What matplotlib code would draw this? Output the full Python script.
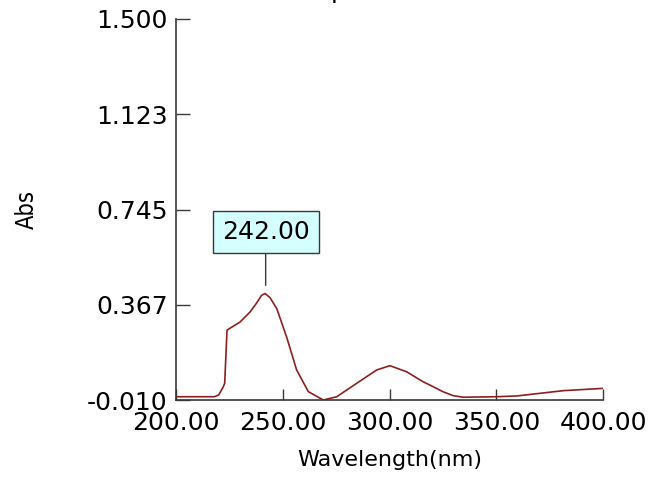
import numpy as np
import matplotlib.pyplot as plt

# ----------- DATA -----------------------------------------------------------
wavelength = [200.0, 218.0, 220.0, 222.0, 222.8, 223.9, 230.0, 234.7, 237.8, 240.1,
              241.7, 244.0, 247.2, 251.8, 256.5, 262.0, 269.0, 275.3, 284.6, 294.0,
              300.2, 308.0, 315.8, 319.0, 325.0, 329.9, 334.6, 350.2, 359.6, 381.4,
              399.8]
absorbance = [0.003, 0.003, 0.010, 0.040, 0.056, 0.267, 0.299, 0.339, 0.375, 0.405,
              0.412, 0.396, 0.352, 0.240, 0.109, 0.023, -0.010, 0.003, 0.056, 0.109,
              0.126, 0.102, 0.062, 0.049, 0.023, 0.007, 0.001, 0.003, 0.006, 0.027,
              0.036]

y_ticks = [-0.010, 0.367, 0.745, 1.123, 1.500]
x_ticks = [200, 250, 300, 350, 400]
peak_wl = 242.00
# ----------------------------------------------------------------------------

axis_color = "#383838"

fig = plt.figure(figsize=(6.52, 4.8), dpi=100)
ax = fig.add_axes([176/652, 1 - 400/480, 427/652, 381/480])

ax.plot(wavelength, absorbance, color="#8b2020", lw=1.2)

ax.set_xlim(200, 400)
ax.set_ylim(-0.010, 1.500)
ax.set_xticks(x_ticks)
ax.set_xticklabels([f"{v:.2f}" for v in x_ticks])
ax.set_yticks(y_ticks)
ax.set_yticklabels([f"{v:.3f}" for v in y_ticks])

for side in ["top", "right"]:
    ax.spines[side].set_visible(False)
for side in ["left", "bottom"]:
    ax.spines[side].set_color(axis_color)
    ax.spines[side].set_linewidth(1.2)

ax.tick_params(axis="y", direction="in", length=10, width=1, color=axis_color,
               labelsize=18, pad=6)
ax.tick_params(axis="x", direction="in", length=8, width=1, color=axis_color,
               labelsize=18, pad=8)

ax.set_xlabel("Wavelength(nm)", fontsize=16)
ax.xaxis.set_label_coords(0.5, -0.13)
ax.set_ylabel("Abs", fontsize=17, fontstretch="condensed")
ax.yaxis.set_label_coords(-0.322, 0.5)

# peak label box
ax.annotate(f"{peak_wl:.2f}", xy=(peak_wl, 0.4445), xytext=(peak_wl, 0.654),
            ha="center", va="center", fontsize=18,
            bbox=dict(boxstyle="square,pad=0.36", fc="#d4ffff", ec="#383838", lw=1),
            arrowprops=dict(arrowstyle="-", color="#383838", lw=1,
                            shrinkA=0, shrinkB=0))

# title cut off at the top edge, only the descender shows
fig.text(339/652, 1 - 3/480, "p", ha="center", va="bottom", fontsize=18)

fig.savefig("out.png", dpi=100)
